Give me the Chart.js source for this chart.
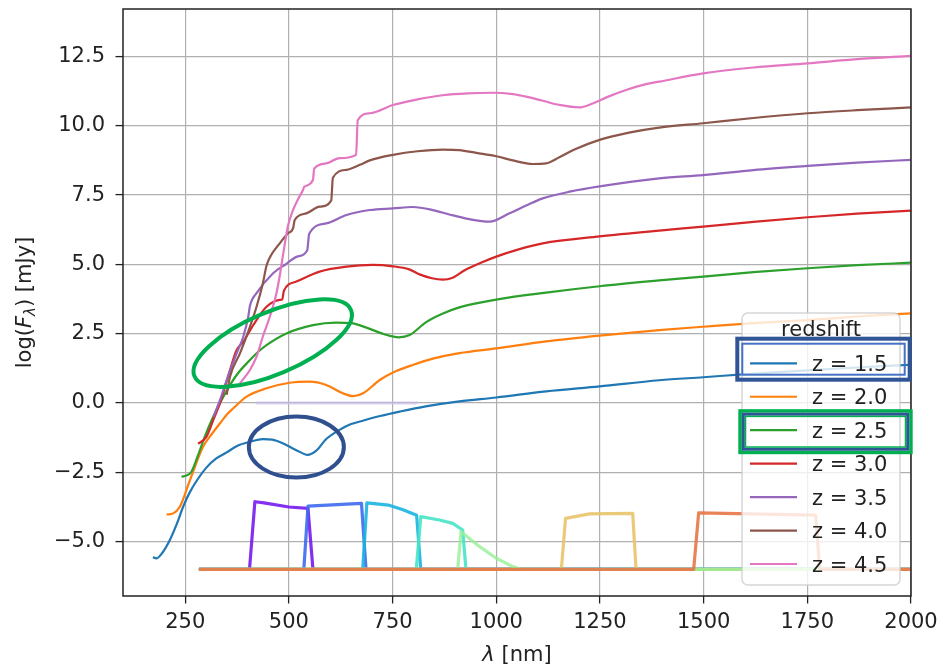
<!DOCTYPE html>
<html><head><meta charset="utf-8">
<script src="https://cdn.jsdelivr.net/npm/chart.js@4.4.1/dist/chart.umd.min.js"></script>
<style>html,body{margin:0;padding:0;background:#fff;}#wrap{width:943px;height:667px;}</style>
</head><body><div id="wrap"><canvas id="c" width="943" height="667"></canvas></div>
<script>
// ---------------- data ----------------
const redshifts = [1.5, 2.0, 2.5, 3.0, 3.5, 4.0, 4.5];
const seriesColors = ['#1f77b4','#ff7f0e','#2ca02c','#d62728','#9467bd','#8c564b','#e377c2'];

const z15 = [[172,-5.56],[181,-5.6],[195,-5.4],[213,-4.94],[230,-4.35],[245,-3.74],[260,-3.25],[280,-2.75],[301,-2.33],[325,-2.0],[350,-1.78],[375,-1.55],[406,-1.4],[437,-1.3],[460,-1.32],[485,-1.45],[518,-1.7],[545,-1.87],[566,-1.72],[590,-1.3],[622,-0.97],[650,-0.76],[680,-0.63],[720,-0.47],[767,-0.31],[830,-0.12],[911,0.06],[1000,0.2],[1120,0.42],[1249,0.6],[1393,0.82],[1499,0.93],[1620,1.06],[1750,1.18],[1870,1.28],[2000,1.38]];
const z20 = [[205,-4.02],[221,-3.98],[237,-3.74],[261,-2.8],[293,-1.58],[315,-1.1],[334,-0.73],[350,-0.42],[366,-0.19],[398,0.23],[446,0.53],[502,0.73],[550,0.77],[590,0.65],[630,0.35],[655,0.25],[679,0.35],[719,0.83],[751,1.1],[800,1.38],[847,1.6],[911,1.8],[1000,1.97],[1120,2.22],[1249,2.43],[1393,2.63],[1499,2.75],[1620,2.88],[1751,2.99],[1870,3.12],[2000,3.23]];
const z25 = [[241,-2.66],[255,-2.6],[265,-2.48],[281,-1.88],[297,-1.22],[314,-0.61],[342,0.23],[374,1.01],[406,1.55],[426,1.85],[446,2.09],[494,2.51],[558,2.81],[614,2.9],[650,2.88],[687,2.72],[730,2.48],[765,2.37],[791,2.45],[831,2.92],[870,3.22],[911,3.45],[1000,3.73],[1120,3.98],[1249,4.21],[1393,4.42],[1499,4.56],[1620,4.72],[1751,4.86],[1870,4.97],[2000,5.06]];
const z30 = [[281,-1.47],[301,-1.22],[318,-0.6],[334,0.0],[358,1.19],[374,1.91],[390,2.21],[414,2.81],[446,3.47],[478,3.72],[484,3.74],[488,4.05],[518,4.38],[574,4.74],[639,4.92],[702,4.98],[751,4.93],[790,4.82],[815,4.64],[845,4.5],[871,4.45],[895,4.52],[925,4.8],[960,5.04],[1000,5.28],[1056,5.55],[1112,5.76],[1249,6.01],[1393,6.22],[1499,6.36],[1620,6.53],[1751,6.7],[1870,6.83],[2000,6.94]];
const z35 = [[318,-0.5],[334,0.11],[350,0.83],[374,1.79],[390,2.39],[402,3.11],[406,3.5],[422,3.96],[462,4.68],[494,5.02],[520,5.28],[544,5.5],[549,6.1],[590,6.48],[639,6.78],[695,6.96],[751,7.02],[799,7.07],[850,6.95],[887,6.8],[935,6.63],[984,6.54],[1032,6.84],[1072,7.12],[1112,7.38],[1180,7.63],[1249,7.81],[1393,8.1],[1499,8.22],[1620,8.4],[1751,8.55],[1870,8.67],[2000,8.77]];
const z40 = [[350,0.3],[358,0.95],[382,1.79],[406,2.75],[422,3.47],[437,4.3],[446,4.95],[454,5.25],[478,5.76],[498,6.12],[510,6.3],[514,6.6],[542,6.84],[574,7.08],[602,7.3],[606,8.12],[639,8.41],[671,8.59],[695,8.75],[751,8.95],[810,9.08],[871,9.14],[911,9.12],[952,9.02],[1000,8.9],[1040,8.75],[1088,8.62],[1120,8.64],[1152,8.86],[1190,9.15],[1249,9.49],[1320,9.75],[1393,9.93],[1499,10.09],[1620,10.28],[1751,10.45],[1870,10.56],[2000,10.66]];
const z45 = [[382,0.71],[406,1.19],[422,1.67],[437,2.39],[454,3.11],[470,3.96],[478,4.6],[486,5.35],[498,6.4],[510,6.96],[522,7.35],[534,7.68],[537,7.8],[558,8.04],[561,8.45],[590,8.64],[622,8.83],[662,8.95],[666,10.2],[695,10.45],[751,10.75],[810,10.95],[871,11.1],[930,11.17],[992,11.19],[1040,11.14],[1072,11.05],[1112,10.9],[1152,10.75],[1200,10.66],[1232,10.8],[1270,11.05],[1313,11.29],[1361,11.5],[1393,11.59],[1499,11.89],[1620,12.1],[1751,12.25],[1870,12.4],[2000,12.52]];
const seriesData = [z15, z20, z25, z30, z35, z40, z45];

// filter transmission curves (drawn at the bottom)
const filterColors = ['rgba(120,25,240,0.9)','rgba(60,105,240,0.9)','rgba(25,180,225,0.9)','rgba(70,228,200,0.9)','rgba(232,196,106,0.9)','rgba(150,240,150,0.8)','rgba(232,118,70,0.9)'];
const f1 = [[283,-6],[405,-6],[418,-3.56],[440,-3.6],[500,-3.75],[546,-3.8],[558,-6],[2000,-6]];
const f2 = [[283,-6],[536,-6],[546,-3.72],[675,-3.62],[686,-6],[2000,-6]];
const f3 = [[283,-6],[678,-6],[688,-3.6],[740,-3.68],[775,-3.85],[808,-4.05],[818,-6],[2000,-6]];
const f4 = [[283,-6],[807,-6],[818,-4.1],[863,-4.22],[895,-4.34],[919,-4.58],[927,-6],[2000,-6]];
const f5 = [[283,-6],[1157,-6],[1167,-4.16],[1225,-4.0],[1329,-3.98],[1337,-6],[2000,-6]];
const f6 = [[283,-6],[907,-6],[915,-4.64],[960,-5.18],[1000,-5.6],[1040,-5.9],[1060,-6],[2000,-6]];
const f7 = [[283,-6],[1476,-6],[1488,-3.96],[1770,-4.04],[1780,-6],[2000,-6]];
const filterData = [f1, f2, f3, f4, f5, f6, f7];
const flatLine = [[420,0],[810,0]];

const xTicks = [250, 500, 750, 1000, 1250, 1500, 1750, 2000];
const xTickLabels = ['250','500','750','1000','1250','1500','1750','2000'];
const yTicks = [-5, -2.5, 0, 2.5, 5, 7.5, 10, 12.5];
const yTickLabels = ['\u22125.0','\u22122.5','0.0','2.5','5.0','7.5','10.0','12.5'];

// ---------------- chart ----------------
const FONT = 'DejaVu Sans';
const toPts = arr => arr.map(p => ({x: p[0], y: p[1]}));

const datasets = [];
seriesData.forEach((d, i) => datasets.push({
  label: 'z = ' + redshifts[i].toFixed(1), data: toPts(d), showLine: true,
  borderColor: seriesColors[i], backgroundColor: seriesColors[i], borderWidth: 2.2,
  pointRadius: 0, cubicInterpolationMode: 'monotone', isSed: true
}));
datasets.push({label: '', data: toPts(flatLine), showLine: true, borderColor: 'rgba(200,185,235,0.6)', borderWidth: 3, pointRadius: 0});
filterData.forEach((d, i) => datasets.push({
  label: '', data: toPts(d), showLine: true, borderColor: filterColors[i], borderWidth: 3.2,
  pointRadius: 0, tension: 0, borderJoinStyle: 'round'
}));
// later datasets on top (matplotlib drawing order)
datasets.forEach((d, i) => { d.order = 100 - i; });

function roundRectPath(ctx, x, y, w, h, r) {
  ctx.beginPath();
  ctx.moveTo(x + r, y); ctx.lineTo(x + w - r, y); ctx.arcTo(x + w, y, x + w, y + r, r);
  ctx.lineTo(x + w, y + h - r); ctx.arcTo(x + w, y + h, x + w - r, y + h, r);
  ctx.lineTo(x + r, y + h); ctx.arcTo(x, y + h, x, y + h - r, r);
  ctx.lineTo(x, y + r); ctx.arcTo(x, y, x + r, y, r); ctx.closePath();
}

const overlay = {
  id: 'overlay',
  afterDatasetsDraw(chart) {
    const {ctx, chartArea: ca} = chart;
    ctx.save();
    ctx.strokeStyle = '#222'; ctx.lineWidth = 1.5;
    ctx.strokeRect(ca.left, ca.top, ca.right - ca.left, ca.bottom - ca.top);
    // legend
    const L = {left: ca.right - 169, right: ca.right - 11, top: ca.top + 304, bottom: ca.bottom - 11};
    roundRectPath(ctx, L.left, L.top, L.right - L.left, L.bottom - L.top, 6);
    ctx.fillStyle = 'rgba(255,255,255,0.8)'; ctx.fill();
    ctx.strokeStyle = 'rgba(204,204,204,0.8)'; ctx.lineWidth = 1.5; ctx.stroke();
    ctx.fillStyle = '#222'; ctx.font = '21px "' + FONT + '"';
    ctx.textAlign = 'center'; ctx.textBaseline = 'alphabetic';
    ctx.fillText('redshift', (L.left + L.right) / 2, L.top + 23);
    ctx.textAlign = 'left';
    const seds = chart.data.datasets.filter(d => d.isSed);
    seds.forEach((d, i) => {
      const cy = L.top + 50.3 + i * 33.45;
      ctx.strokeStyle = d.borderColor; ctx.lineWidth = 2.2;
      ctx.beginPath(); ctx.moveTo(L.left + 8, cy); ctx.lineTo(L.left + 55, cy); ctx.stroke();
      ctx.fillStyle = '#222';
      ctx.fillText(d.label, L.left + 70, cy + 7.7);
    });
    chart.$legendBox = L;
    ctx.restore();
  },
  afterDraw(chart) {
    const {ctx, chartArea: ca, scales: {x, y}} = chart;
    const L = chart.$legendBox;
    ctx.save();
    // annotation ellipses
    ctx.lineWidth = 4;
    ctx.strokeStyle = '#00B050';
    ctx.beginPath(); ctx.ellipse(x.getPixelForValue(461), y.getPixelForValue(2.16), 85, 31, -23 * Math.PI / 180, 0, Math.PI * 2); ctx.stroke();
    ctx.strokeStyle = '#2F4F8F';
    ctx.beginPath(); ctx.ellipse(x.getPixelForValue(518), y.getPixelForValue(-1.59), 47.5, 30.5, 0, 0, Math.PI * 2); ctx.stroke();
    // legend highlight boxes
    const r0 = L.top + 50.3, r2 = L.top + 50.3 + 2 * 33.45;
    let bx = L.left - 6.7, by = r0 - 26.6, bw = 176.4, bh = 45;
    ctx.strokeStyle = '#2F5597'; ctx.lineWidth = 4;
    ctx.strokeRect(bx + 2, by + 2, bw - 4, bh - 4);
    ctx.strokeStyle = '#4472C4'; ctx.lineWidth = 2;
    ctx.strokeRect(bx + 7, by + 7, bw - 14, bh - 14);
    bx = L.left - 3.7; by = r2 - 21; bw = 174.4; bh = 45;
    ctx.strokeStyle = '#00B050'; ctx.lineWidth = 3.5;
    ctx.strokeRect(bx + 1.75, by + 1.75, bw - 3.5, bh - 3.5);
    ctx.strokeStyle = '#2F5597'; ctx.lineWidth = 3;
    ctx.strokeRect(bx + 5, by + 5, bw - 10, bh - 10);
    ctx.strokeStyle = '#00B050'; ctx.lineWidth = 1.5;
    ctx.strokeRect(bx + 7.2, by + 7.2, bw - 14.4, bh - 14.4);
    // axis titles
    ctx.fillStyle = '#222'; ctx.textBaseline = 'alphabetic';
    const norm = '21px "' + FONT + '"', ital = 'italic 21px "' + FONT + '"', sub = 'italic 15px "' + FONT + '"';
    const segs = [['log(', norm, 0], ['F', ital, 0], ['\u03bb', sub, 4], [') [mJy]', norm, 0]];
    let tot = 0; segs.forEach(s => { ctx.font = s[1]; s.w = ctx.measureText(s[0]).width; tot += s.w; });
    ctx.save();
    ctx.translate(31, (ca.top + ca.bottom) / 2); ctx.rotate(-Math.PI / 2);
    ctx.textAlign = 'left';
    let cx = -tot / 2;
    segs.forEach(s => { ctx.font = s[1]; ctx.fillText(s[0], cx, s[2]); cx += s.w; });
    ctx.restore();
    const xs = [['\u03bb', ital], [' [nm]', norm]];
    tot = 0; xs.forEach(s => { ctx.font = s[1]; s.w = ctx.measureText(s[0]).width; tot += s.w; });
    cx = (ca.left + ca.right) / 2 - tot / 2;
    ctx.textAlign = 'left';
    xs.forEach(s => { ctx.font = s[1]; ctx.fillText(s[0], cx, 661); cx += s.w; });
    ctx.restore();
  }
};

const zeroPad = s => { s.paddingTop = 0; s.paddingBottom = 0; s.paddingLeft = 0; s.paddingRight = 0; };

new Chart(document.getElementById('c'), {
  type: 'scatter',
  data: {datasets},
  options: {
    responsive: false, animation: false, events: [],
    layout: {padding: {left: 0, right: 32, top: 9, bottom: 0}},
    plugins: {legend: {display: false}, tooltip: {enabled: false}},
    scales: {
      x: {
        type: 'linear', min: 100, max: 2000,
        afterBuildTicks: s => { s.ticks = xTicks.map(v => ({value: v})); },
        afterFit: s => { s.height = 71; zeroPad(s); },
        ticks: {autoSkip: false, maxRotation: 0, padding: 6, color: '#222', font: {family: FONT, size: 21},
          callback: v => xTickLabels[xTicks.indexOf(v)]},
        grid: {color: '#b0b0b0', lineWidth: 1.2, tickColor: '#222', tickLength: 7.5, tickWidth: 1.3},
        border: {display: false}
      },
      y: {
        type: 'linear', min: -6.96, max: 14.21,
        afterBuildTicks: s => { s.ticks = yTicks.map(v => ({value: v})); },
        afterFit: s => { s.width = 123; zeroPad(s); },
        ticks: {autoSkip: false, padding: 10.5, color: '#222', font: {family: FONT, size: 21},
          callback: v => yTickLabels[yTicks.indexOf(v)]},
        grid: {color: '#b0b0b0', lineWidth: 1.2, tickColor: '#222', tickLength: 7.5, tickWidth: 1.3},
        border: {display: false}
      }
    }
  },
  plugins: [overlay]
});
</script></body></html>
